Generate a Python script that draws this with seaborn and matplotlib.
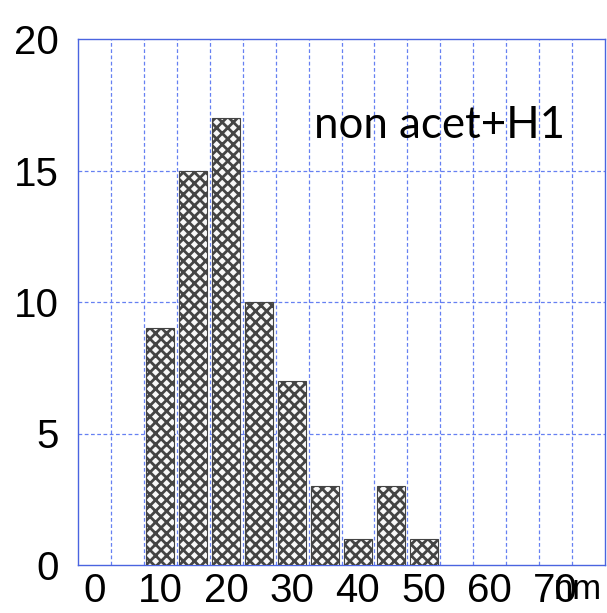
import numpy as np
import pandas as pd
import matplotlib
matplotlib.use("Agg")
import matplotlib.pyplot as plt
import seaborn as sns

# -----------------------------
# data (bin centres in nm, counts)
# -----------------------------
sizes = [10, 15, 20, 25, 30, 35, 40, 45, 50]
counts = [9, 15, 17, 10, 7, 3, 1, 3, 1]
x_labels = ["0", "10", "20", "30", "40", "50", "60", "70"]
y_labels = ["0", "5", "10", "15", "20"]
label = "non acet+H1"
unit = "nm"

df = pd.DataFrame({"size": sizes, "count": counts})

# -----------------------------
# plot
# -----------------------------
sns.set_style("white")
plt.rcParams["font.family"] = ["Liberation Sans", "DejaVu Sans"]
plt.rcParams["text.color"] = "black"
plt.rcParams["xtick.color"] = "black"
plt.rcParams["ytick.color"] = "black"
plt.rcParams["hatch.color"] = "#333333"
plt.rcParams["hatch.linewidth"] = 2.0

fig = plt.figure(figsize=(6.07, 6.13), dpi=100)
ax = fig.add_axes([78 / 607, 48 / 613, 527 / 607, 526 / 613])

sns.barplot(data=df, x="size", y="count", native_scale=True, width=0.85,
            color="#f8f8f8", edgecolor="#444444", linewidth=0.8, ax=ax,
            zorder=3)
for p in ax.patches:
    p.set_hatch("xxx")
    if hasattr(p, "set_hatchcolor"):
        p.set_hatchcolor("#333333")
        p.set_edgecolor("#999999")

ax.set_xlim(-2.5, 77.5)
ax.set_ylim(0, 20)

ax.set_xticks([int(s) for s in x_labels])
ax.set_xticklabels(x_labels, fontsize=29)
ax.set_yticks([int(s) for s in y_labels])
ax.set_yticklabels(y_labels, fontsize=29)
ax.tick_params(axis="both", which="both", length=0)
ax.tick_params(axis="x", pad=5)
ax.tick_params(axis="y", pad=14)
ax.grid(False)

# dashed blue grid: verticals on the bin edges, horizontals on the y ticks
grid_kw = dict(color="#6680f2", linestyle=(0, (3, 2)), linewidth=0.9, zorder=1)
for xe in np.arange(2.5, 77.5, 5):
    ax.axvline(xe, **grid_kw)
for yv in [int(s) for s in y_labels][1:-1]:
    ax.axhline(yv, **grid_kw)

for s in ax.spines.values():
    s.set_visible(True)
    s.set_color("#4a64e0")
    s.set_linewidth(1.0)

ax.set_xlabel("")
ax.set_ylabel("")

ax.text(33.3, 16.24, label, fontsize=31.5, family=["Lato", "DejaVu Sans"],
        ha="left", va="baseline", color="black")
ax.text(69.7, -0.3, unit, fontsize=25, ha="left", va="top",
        clip_on=False, color="black")

fig.savefig("out.png", dpi=100)
